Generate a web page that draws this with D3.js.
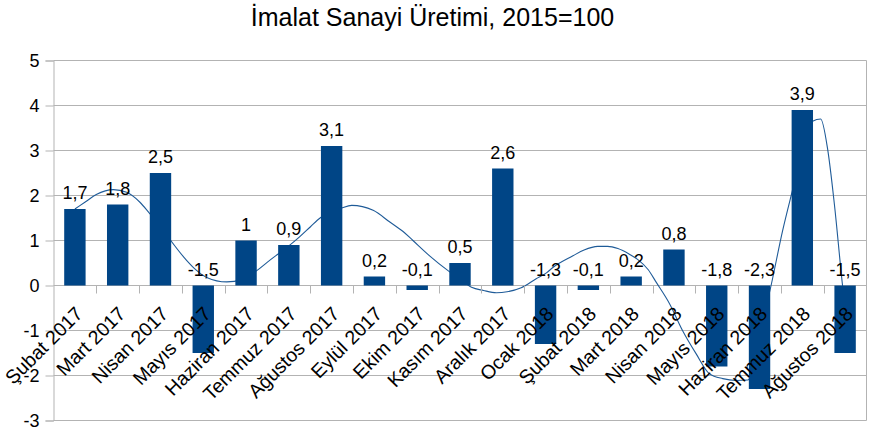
<!DOCTYPE html>
<html>
<head>
<meta charset="utf-8">
<script src="https://cdn.jsdelivr.net/npm/d3@7"></script>
<style>
  html, body { margin: 0; padding: 0; background: #ffffff; }
  svg { display: block; }
  text { font-family: "Liberation Sans", Arial, sans-serif; fill: #000; }
</style>
</head>
<body>
<script>
// ---- data ----
const title = "İmalat Sanayi Üretimi, 2015=100";
const categories = ["Şubat 2017", "Mart 2017", "Nisan 2017", "Mayıs 2017", "Haziran 2017",
  "Temmuz 2017", "Ağustos 2017", "Eylül 2017", "Ekim 2017", "Kasım 2017", "Aralık 2017",
  "Ocak 2018", "Şubat 2018", "Mart 2018", "Nisan 2018", "Mayıs 2018", "Haziran 2018",
  "Temmuz 2018", "Ağustos 2018"];
const values = [1.7, 1.8, 2.5, -1.5, 1, 0.9, 3.1, 0.2, -0.1, 0.5, 2.6, -1.3, -0.1, 0.2, 0.8, -1.8, -2.3, 3.9, -1.5];
const yTicks = [-3, -2, -1, 0, 1, 2, 3, 4, 5];
// trend line: [category position, value]
const trendPos = [0, 0.25, 0.5, 0.9, 1.21, 1.52, 1.74, 2.0, 2.24, 2.61, 2.85, 3.08, 3.55, 3.9, 4.25, 4.5, 4.75, 5.0, 5.25, 5.5, 5.73, 6.0, 6.23, 6.47, 6.97, 7.36, 7.67, 7.9, 8.29, 8.72, 9.0, 9.27, 9.55, 9.85, 10.1, 10.43, 10.78, 11.02, 11.17, 11.64, 11.9, 12.22, 12.45, 12.69, 12.95, 13.15, 13.4, 13.58, 13.9, 14.2, 14.52, 14.83, 15.14, 15.45, 15.73, 16.0, 16.27, 16.54, 16.74, 17.0, 17.24, 17.43, 17.59, 17.75, 17.94, 18.0];
const trendVal = [1.70, 1.86, 2.02, 2.13, 2.07, 1.85, 1.61, 1.32, 1.0, 0.56, 0.33, 0.18, 0.08, 0.13, 0.33, 0.52, 0.70, 0.88, 1.08, 1.30, 1.50, 1.64, 1.72, 1.78, 1.67, 1.41, 1.20, 1.0, 0.66, 0.33, 0.14, -0.04, -0.11, -0.16, -0.14, -0.05, 0.15, 0.28, 0.40, 0.66, 0.79, 0.87, 0.87, 0.82, 0.70, 0.58, 0.35, 0.08, -0.41, -1.0, -1.52, -1.96, -2.07, -2.11, -2.10, -1.1, 0.0, 1.22, 2.0, 2.95, 3.65, 3.70, 3.04, 1.8, 0.0, -0.5];

// ---- layout ----
const W = 875, H = 432;
const L = 53.5, R = 866.5, T = 60.5, B = 420.5;
const barColor = "#004586";
const gridColor = "#b3b3b3";

const svg = d3.select("body").append("svg").attr("width", W).attr("height", H);

const x = d3.scaleBand().domain(categories).range([L, R]).padding(0);
const xi = d3.scaleLinear().domain([-0.5, categories.length - 0.5]).range([L, R]);
const y = d3.scaleLinear().domain([-3, 5]).range([B, T]);

// grid
svg.append("g").selectAll("line").data(yTicks).join("line")
  .attr("x1", L).attr("x2", R)
  .attr("y1", d => y(d)).attr("y2", d => y(d))
  .attr("stroke", gridColor).attr("stroke-width", 1);

// right border
svg.append("line").attr("x1", R).attr("x2", R).attr("y1", T).attr("y2", B)
  .attr("stroke", gridColor);

// trend line (behind bars)
const trend = trendPos.map((p, i) => [p, trendVal[i]]);
svg.append("path").datum(trend)
  .attr("fill", "none").attr("stroke", "#1f5b98").attr("stroke-width", 1.1)
  .attr("d", d3.line().x(d => xi(d[0])).y(d => y(d[1])).curve(d3.curveMonotoneX));

// bars
const bw = x.bandwidth() * 0.5;
svg.append("g").selectAll("rect").data(values).join("rect")
  .attr("x", (d, i) => x(categories[i]) + (x.bandwidth() - bw) / 2)
  .attr("width", bw)
  .attr("y", d => y(Math.max(d, 0)))
  .attr("height", d => Math.abs(y(d) - y(0)))
  .attr("fill", barColor);

// left axis
const yAxis = svg.append("g").attr("transform", `translate(${L},0)`)
  .call(d3.axisLeft(y).tickValues(yTicks).tickSize(8).tickPadding(6).tickFormat(d => String(d)));
yAxis.select(".domain").attr("stroke", gridColor);
yAxis.selectAll(".tick line").attr("stroke", gridColor);
yAxis.selectAll(".tick text").attr("font-size", 18).attr("font-family", "Liberation Sans, Arial, sans-serif").attr("fill", "#000").attr("dy", "0.36em");

// category ticks on zero line
svg.append("g").selectAll("line").data(categories.slice(1)).join("line")
  .attr("x1", d => Math.round(x(d)) + 0.5).attr("x2", d => Math.round(x(d)) + 0.5)
  .attr("y1", y(0)).attr("y2", y(0) + 8)
  .attr("stroke", gridColor);

// category labels
svg.append("g").selectAll("text").data(categories).join("text")
  .attr("transform", d => `translate(${x(d) + x.bandwidth() / 2 + 9},315) rotate(-45)`)
  .attr("text-anchor", "end")
  .attr("font-size", 19.5)
  .text(d => d);

// data labels
svg.append("g").selectAll("text").data(values).join("text")
  .attr("x", (d, i) => x(categories[i]) + x.bandwidth() / 2)
  .attr("y", d => y(Math.max(d, 0)) - 10)
  .attr("text-anchor", "middle")
  .attr("font-size", 18)
  .text(d => String(d).replace(".", ","));

// title
svg.append("text").attr("x", 432.5).attr("y", 26).attr("text-anchor", "middle")
  .attr("font-size", 25).text(title);
</script>
</body>
</html>
